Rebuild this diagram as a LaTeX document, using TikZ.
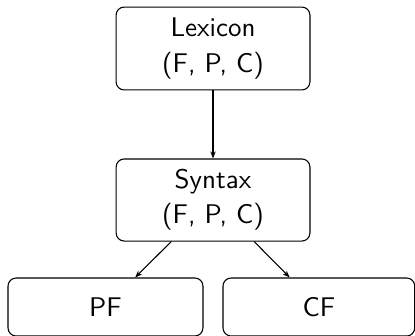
\documentclass[tikz,border=0pt]{standalone}
\usetikzlibrary{arrows.meta}
\begin{document}
\begin{tikzpicture}[x=1pt,y=1pt,
  box/.style={draw=black, line width=0.4pt, rounded corners=3pt, align=center,
    font=\sffamily, minimum width=71.8pt, inner sep=0pt},
  conn/.style={-{Stealth[length=2.6pt,width=2pt]}, line width=0.4pt}]
\useasboundingbox (0,0) rectangle (153.7,-124.1);
\node[box, minimum height=30.7pt] (lex) at (78.9,-17.96) {Lexicon\\[1pt](F, P, C)};
\node[box, minimum height=30.4pt] (syn) at (78.9,-74.07) {Syntax\\[1pt](F, P, C)};
\node[box, minimum width=72.2pt, minimum height=21.5pt] (pf) at (39.07,-113.7) {PF};
\node[box, minimum width=71pt, minimum height=21.5pt] (cf) at (118.1,-113.7) {CF};
\draw[conn] (lex) -- (syn);
\draw[conn] (syn) -- (pf);
\draw[conn] (syn) -- (cf);
\end{tikzpicture}
\end{document}
